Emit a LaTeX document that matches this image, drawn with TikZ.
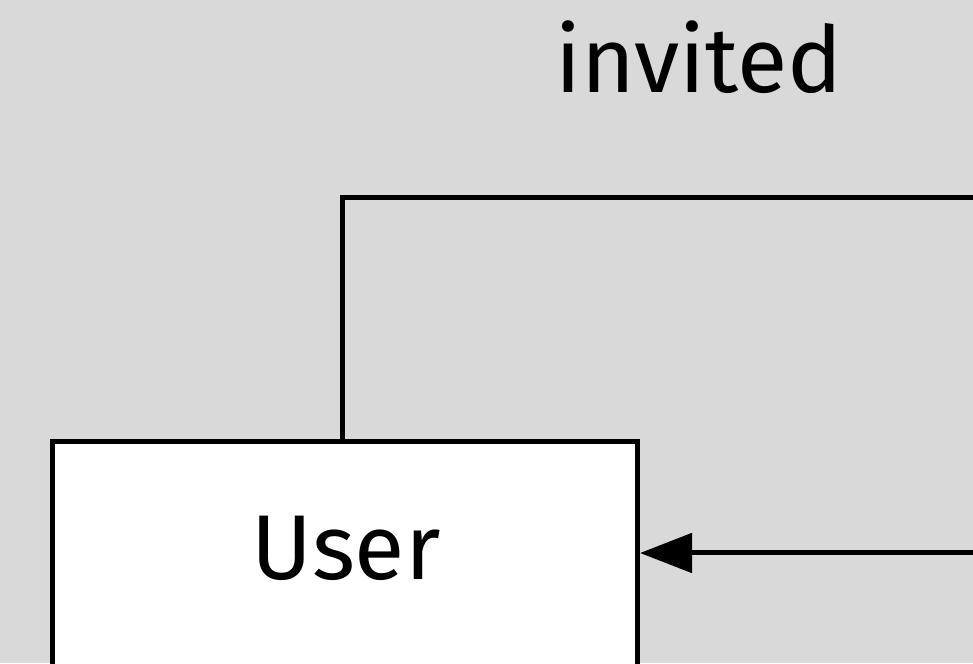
\documentclass[tikz,border=0pt]{standalone}
\usepackage{fontspec}
\setmainfont{Fira Sans}
\usetikzlibrary{arrows.meta}
\definecolor{canvas}{HTML}{D9D9D9}
\tikzset{
  wire/.style={line width=5pt, line cap=butt},
  entity/.style={draw, line width=5pt, fill=white, inner sep=0pt},
  bigtext/.style={font=\fontsize{92}{100}\selectfont, inner sep=0pt, anchor=base},
}
\begin{document}
\begin{tikzpicture}[x=1pt,y=1pt]
  \useasboundingbox (0,0) rectangle (973,663);
  \clip (0,0) rectangle (973,663);
  \fill[canvas] (0,0) rectangle (973,663);

  % association label
  \node[bigtext] (invited) at (699,570) {invited};

  % User entity box (continues below the frame)
  \node[entity, minimum width=584.5pt, minimum height=300pt, anchor=north west] (user) at (50,224) {};
  \node[bigtext] (userlabel) at (346,83) {User};

  % connector ends beyond the right edge
  \coordinate (outtop) at (990,465.5);
  \coordinate (outmid) at (990,110);
  \coordinate (tip) at (640,110);

  \draw[wire] (342.5,224) coordinate (start) -- (start |- outtop) -- (outtop);
  \draw[wire, -{Triangle[length=52pt,width=39pt]}] (outmid) -- (tip);
\end{tikzpicture}
\end{document}
